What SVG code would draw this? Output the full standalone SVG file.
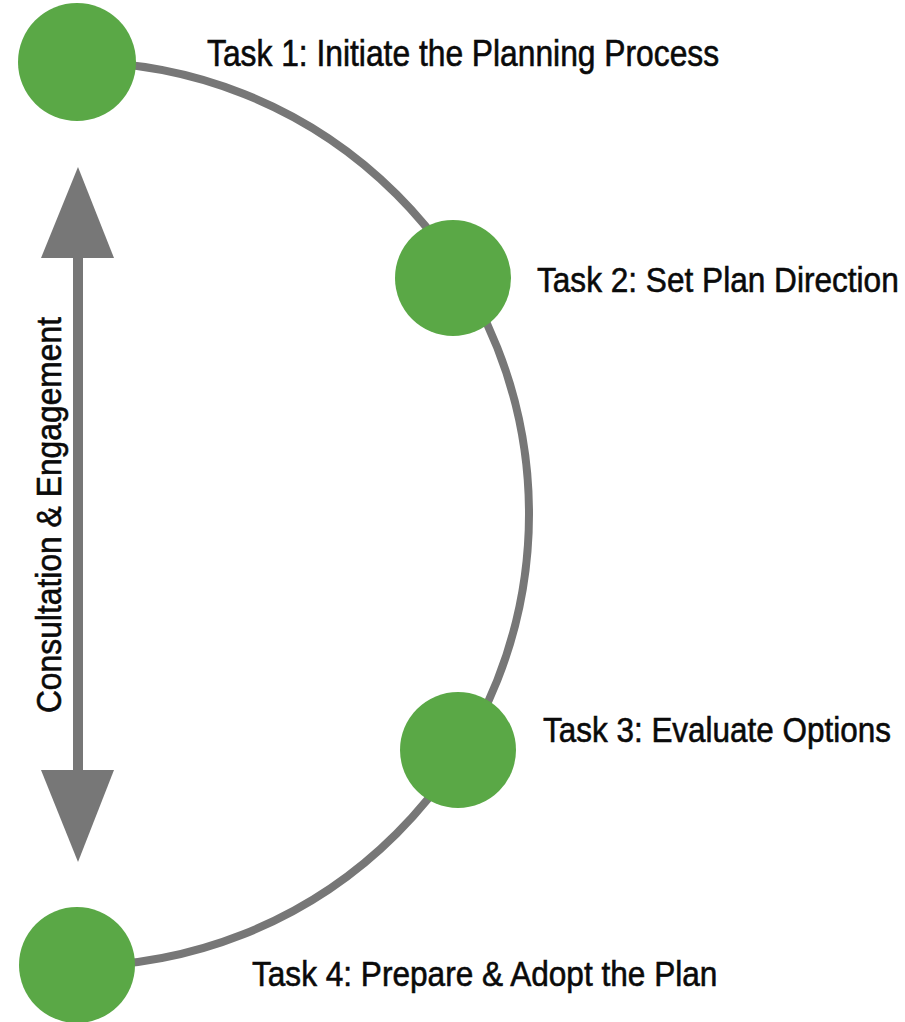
<svg xmlns="http://www.w3.org/2000/svg" width="905" height="1022" viewBox="0 0 905 1022">
<style>
.node{fill:#5aa846}
.conn{fill:none;stroke:#777777;stroke-width:8}
.arrow{fill:#777777}
.lbl{font-family:"Liberation Sans",Arial,sans-serif;font-size:36px;fill:#0a0a0a;stroke:#0a0a0a;stroke-width:0.6}
</style>
<rect width="905" height="1022" fill="#ffffff"/>
<g id="connectors">
<path class="conn" d="M77,62 A452,452 0 0 1 77,966"/>
</g>
<g id="engagement-arrow">
<rect class="arrow" x="73" y="255" width="10" height="518"/>
<polygon class="arrow" points="78,167 114,258 41,258"/>
<polygon class="arrow" points="41,770 114,770 78,862"/>
<text class="lbl" transform="translate(61,515) rotate(-90) scale(0.884,1)" text-anchor="middle">Consultation &amp; Engagement</text>
</g>
<g id="task1">
<circle class="node" cx="77" cy="62" r="59"/>
<text class="lbl" transform="translate(207,66) scale(0.883,1)">Task 1: Initiate the Planning Process</text>
</g>
<g id="task2">
<circle class="node" cx="453" cy="278" r="58"/>
<text class="lbl" transform="translate(537,292) scale(0.878,1)">Task 2: Set Plan Direction</text>
</g>
<g id="task3">
<circle class="node" cx="458" cy="750" r="58"/>
<text class="lbl" transform="translate(543,742) scale(0.874,1)">Task 3: Evaluate Options</text>
</g>
<g id="task4">
<circle class="node" cx="77" cy="965" r="58"/>
<text class="lbl" transform="translate(252,986) scale(0.878,1)">Task 4: Prepare &amp; Adopt the Plan</text>
</g>
</svg>
